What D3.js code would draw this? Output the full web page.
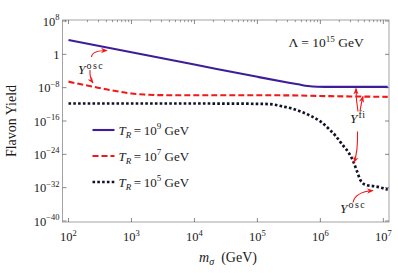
<!DOCTYPE html>
<html>
<head>
<meta charset="utf-8">
<script src="https://cdn.jsdelivr.net/npm/d3@7"></script>
<style>
  body { margin: 0; background: #fff; }
  svg text { font-family: "Liberation Serif", "DejaVu Serif", serif; fill: #1a1a1a; }
</style>
</head>
<body>
<div id="chart"></div>
<script>
// values are log10 of m_sigma (GeV) and log10 of the flavon yield
const massTR9 = [2.0, 3.0, 4.0, 5.0, 5.5, 5.65, 5.8, 5.95, 6.2, 7.07];
const yieldTR9 = [3.45, 0.5, -2.45, -5.4, -6.8, -7.2, -7.6, -7.78, -7.82, -7.82];

const massTR7 = [2.0, 2.2, 2.4, 2.6, 2.8, 3.0, 3.2, 3.5, 4.0, 5.0, 5.5, 6.0, 7.07];
const yieldTR7 = [-6.55, -7.2, -7.8, -8.4, -8.95, -9.4, -9.65, -9.8, -9.82, -9.82, -9.85, -10.0, -10.2];

const massTR5 = [2.0, 3.0, 4.0, 4.5, 5.0, 5.2, 5.4, 5.55, 5.7, 5.85, 6.0, 6.15, 6.25,
  6.35, 6.45, 6.52, 6.58, 6.64, 6.68, 6.74, 6.85, 6.95, 7.07];
const yieldTR5 = [-11.8, -11.8, -11.8, -11.82, -11.88, -11.95, -12.5, -13.0, -13.8, -14.8,
  -16.1, -18.1, -19.7, -21.7, -23.6, -25.6, -28.0, -30.3, -31.0, -31.4, -31.65, -31.95, -32.5];

const legendLabels = ["9", "7", "5"];
const xTickExponents = [2, 3, 4, 5, 6, 7];
const yTickExponents = [8, 0, -8, -16, -24, -32, -40];

// annotation arrows: [start, control, end] in (log m, log Y)
const arrows = [
  [[2.366, -0.64], [2.373, 0.92], [2.612, 0.92]],
  [[2.342, -3.76], [2.334, -5.68], [2.389, -6.88]],
  [[6.598, -13.72], [6.566, -10.96], [6.566, -8.2]],
  [[6.630, -13.6], [6.653, -11.44], [6.677, -10.12]],
  [[6.590, -18.52], [6.598, -23.44], [6.534, -25.96]],
  [[6.519, -35.56], [6.551, -33.04], [6.836, -32.68]]
];
const annotations = [
  { at: [2.15, -4.8], sup: "osc" },
  { at: [6.47, -16.5], sup: "fi" },
  { at: [6.31, -38.1], sup: "osc" }
];

const config = {
  containerWidth: 398,
  containerHeight: 273,
  margin: { top: 20, right: 9, bottom: 51, left: 62.5 },
  colors: ["#3d1d98", "#f01818", "#10102a"],
  dashes: [null, "6,3", "2.6,2.2"]
};

const width = config.containerWidth - config.margin.left - config.margin.right;
const height = config.containerHeight - config.margin.top - config.margin.bottom;

const svg = d3.select("#chart")
  .append("svg")
  .attr("width", config.containerWidth)
  .attr("height", config.containerHeight);

const g = svg.append("g")
  .attr("transform", "translate(" + config.margin.left + "," + config.margin.top + ")");

const x = d3.scaleLog().domain([Math.pow(10, 1.905), Math.pow(10, 7.09)]).range([0, width]);
const y = d3.scaleLog().domain([Math.pow(10, -40.24), Math.pow(10, 8.24)]).range([height, 0]);

const px = (lm) => x(Math.pow(10, lm));
const py = (ly) => y(Math.pow(10, ly));

// frame
g.append("rect")
  .attr("width", width)
  .attr("height", height)
  .attr("fill", "none")
  .attr("stroke", "#a3a3a3")
  .attr("stroke-width", 1);

// ticks (inside the frame)
const tickColor = "#555";
xTickExponents.forEach((e) => {
  const xp = px(e);
  g.append("line").attr("x1", xp).attr("x2", xp).attr("y1", height).attr("y2", height - 4)
    .attr("stroke", tickColor).attr("stroke-width", 0.7);
  g.append("line").attr("x1", xp).attr("x2", xp).attr("y1", 0).attr("y2", 4)
    .attr("stroke", tickColor).attr("stroke-width", 0.7);
  const t = g.append("text")
    .attr("x", xp)
    .attr("y", height + 19)
    .attr("text-anchor", "middle")
    .attr("font-size", 12.5);
  t.append("tspan").text("10");
  t.append("tspan").attr("font-size", 8.5).attr("dy", -5.5).text(e);
});

// minor ticks along the top
const minorTicks = [];
for (let e = 1; e <= 7; e++) {
  for (let k = 2; k <= 9; k++) minorTicks.push(k * Math.pow(10, e));
}
g.selectAll(".minor")
  .data(minorTicks.filter((v) => v > x.domain()[0] && v < x.domain()[1]))
  .enter()
  .append("line")
  .attr("class", "minor")
  .attr("x1", (d) => x(d)).attr("x2", (d) => x(d))
  .attr("y1", 0).attr("y2", 2.2)
  .attr("stroke", tickColor).attr("stroke-width", 0.6);

yTickExponents.forEach((e) => {
  const yp = py(e);
  g.append("line").attr("x1", 0).attr("x2", 4).attr("y1", yp).attr("y2", yp)
    .attr("stroke", tickColor).attr("stroke-width", 0.7);
  g.append("line").attr("x1", width).attr("x2", width - 4).attr("y1", yp).attr("y2", yp)
    .attr("stroke", tickColor).attr("stroke-width", 0.7);
  const t = g.append("text")
    .attr("x", -3)
    .attr("y", yp + 4.5)
    .attr("text-anchor", "end")
    .attr("font-size", 12.5);
  if (e === 0) {
    t.text("1");
  } else {
    t.append("tspan").text("10");
    t.append("tspan").attr("font-size", 8.5).attr("dy", -5.5)
      .text(e < 0 ? "\u2212" + Math.abs(e) : e);
  }
});

// curves
const series = [
  d3.zip(massTR9, yieldTR9),
  d3.zip(massTR7, yieldTR7),
  d3.zip(massTR5, yieldTR5)
];
const line = d3.line()
  .x((d) => px(d[0]))
  .y((d) => py(d[1]))
  .curve(d3.curveMonotoneX);

g.selectAll(".curve")
  .data(series)
  .enter()
  .append("path")
  .attr("class", "curve")
  .attr("d", line)
  .attr("fill", "none")
  .attr("stroke", (d, i) => config.colors[i])
  .attr("stroke-width", (d, i) => (i === 2 ? 2.7 : 2.1))
  .attr("stroke-dasharray", (d, i) => config.dashes[i]);

// legend
legendLabels.forEach((lab, i) => {
  const ly = 110 + i * 26;
  g.append("line")
    .attr("x1", 30).attr("x2", 52).attr("y1", ly).attr("y2", ly)
    .attr("stroke", config.colors[i])
    .attr("stroke-width", i === 2 ? 2.7 : 2.1)
    .attr("stroke-dasharray", config.dashes[i]);
  const t = g.append("text").attr("x", 56).attr("y", ly + 4.5).attr("font-size", 13);
  t.append("tspan").attr("font-style", "italic").text("T");
  t.append("tspan").attr("font-style", "italic").attr("font-size", 9).attr("dy", 3).text("R");
  t.append("tspan").attr("dy", -3).text("\u2009=\u200910");
  t.append("tspan").attr("font-size", 9).attr("dy", -5.5).text(lab);
  t.append("tspan").attr("dy", 5.5).text("\u00a0GeV");
});

// Lambda label
const lam = g.append("text").attr("x", 226).attr("y", 27).attr("font-size", 13.5);
lam.append("tspan").text("\u039b = 10");
lam.append("tspan").attr("font-size", 9).attr("dy", -5.5).text("15");
lam.append("tspan").attr("dy", 5.5).text("\u00a0GeV");

// arrows
svg.append("defs").append("marker")
  .attr("id", "head")
  .attr("viewBox", "0 0 10 10")
  .attr("refX", 9).attr("refY", 5)
  .attr("markerWidth", 6).attr("markerHeight", 6)
  .attr("orient", "auto")
  .append("path")
  .attr("d", "M0,1 L10,5 L0,9 L3,5 Z")
  .attr("fill", "#f01818");

g.selectAll(".arrow")
  .data(arrows)
  .enter()
  .append("path")
  .attr("class", "arrow")
  .attr("d", (d) => {
    const p = d3.path();
    p.moveTo(px(d[0][0]), py(d[0][1]));
    p.quadraticCurveTo(px(d[1][0]), py(d[1][1]), px(d[2][0]), py(d[2][1]));
    return p.toString();
  })
  .attr("fill", "none")
  .attr("stroke", "#f01818")
  .attr("stroke-width", 1.1)
  .attr("marker-end", "url(#head)");

annotations.forEach((a) => {
  const t = g.append("text")
    .attr("x", px(a.at[0]))
    .attr("y", py(a.at[1]))
    .attr("font-size", 13.5);
  t.append("tspan").attr("font-style", "italic").text("Y");
  t.append("tspan").attr("font-size", 10).attr("dx", 1).attr("dy", -5)
    .attr("letter-spacing", a.sup === "osc" ? 1.5 : 0.5).text(a.sup);
});

// axis titles
const xt = svg.append("text")
  .attr("x", 228)
  .attr("y", 262)
  .attr("text-anchor", "middle")
  .attr("font-size", 14);
xt.append("tspan").attr("font-style", "italic").text("m");
xt.append("tspan").attr("font-style", "italic").attr("font-size", 10).attr("dy", 3).text("\u03c3");
xt.append("tspan").attr("dy", -3).text("\u00a0\u00a0(GeV)");

svg.append("text")
  .attr("transform", "translate(16,121) rotate(-90)")
  .attr("text-anchor", "middle")
  .attr("font-size", 14)
  .text("Flavon Yield");
</script>
</body>
</html>
